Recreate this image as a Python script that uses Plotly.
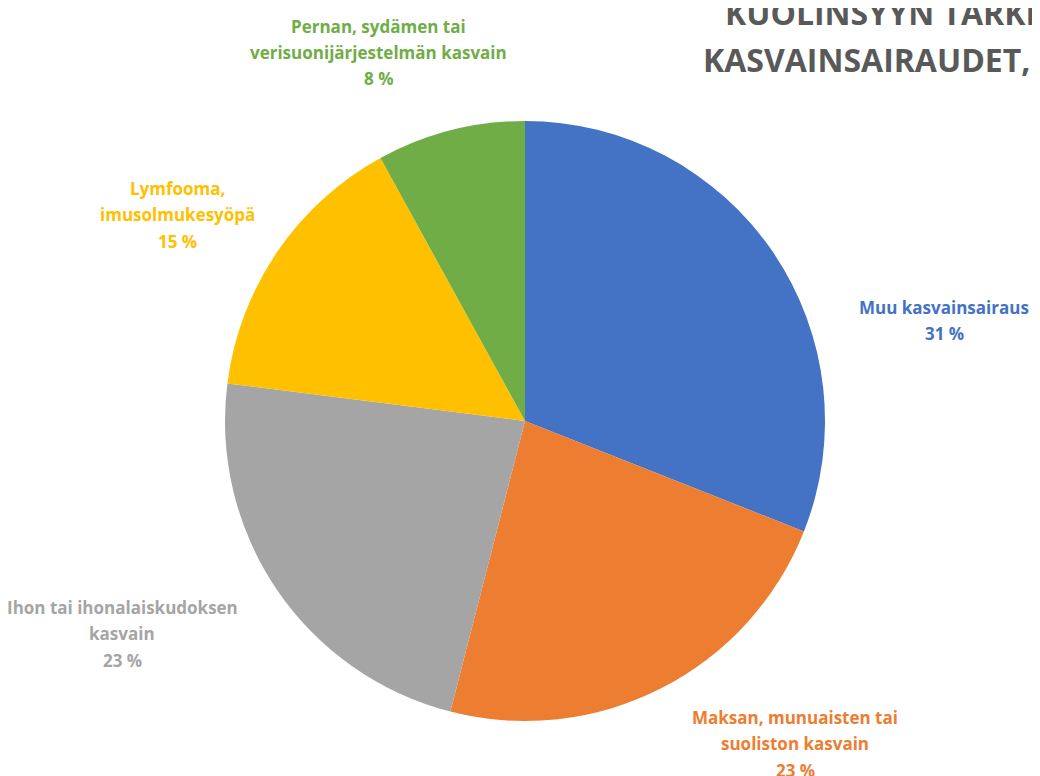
import plotly.graph_objects as go

categories = [
    "Muu kasvainsairaus",
    "Maksan, munuaisten tai suoliston kasvain",
    "Ihon tai ihonalaiskudoksen kasvain",
    "Lymfooma, imusolmukesyöpä",
    "Pernan, sydämen tai verisuonijärjestelmän kasvain",
]
values = [31, 23, 23, 15, 8]
label_lines = [
    ["Muu kasvainsairaus"],
    ["Maksan, munuaisten tai", "suoliston kasvain"],
    ["Ihon tai ihonalaiskudoksen", "kasvain"],
    ["Lymfooma,", "imusolmukesyöpä"],
    ["Pernan, sydämen tai", "verisuonijärjestelmän kasvain"],
]
colors = ["#4472C4", "#ED7D31", "#A5A5A5", "#FFC000", "#70AD47"]
title_lines = ["KUOLINSYYN TARKE", "KASVAINSAIRAUDET,"]

# page has an 8px body margin; work in reference pixel coords and shift
OFF = 8
W, H = 1040 - OFF, 776 - OFF
cx, cy, r = 525 - OFF, 421 - OFF, 300

def px_x(x):
    return (x - OFF) / W

def px_y(y):
    return 1 - (y - OFF) / H

# label block centres (reference pixels) and first-line y
label_pos = [(944, 307), (795, 717), (122, 607), (177, 188), (378, 26)]
line_gap = 26.5

fig = go.Figure(go.Pie(
    labels=categories,
    values=values,
    sort=False,
    direction="clockwise",
    rotation=0,
    marker=dict(colors=colors, line=dict(width=0)),
    textinfo="none",
    hoverinfo="label+percent",
    showlegend=False,
    domain=dict(x=[(cx - r) / W, (cx + r) / W], y=[1 - (cy + r) / H, 1 - (cy - r) / H]),
))

font_family = "'Open Sans', Lato, sans-serif"
annotations = []
for lines, v, col, (px, py) in zip(label_lines, values, colors, label_pos):
    all_lines = lines + [f"{v} %"]
    for i, t in enumerate(all_lines):
        annotations.append(dict(
            x=px_x(px), y=px_y(py + i * line_gap), xref="paper", yref="paper",
            text=f"<b>{t}</b>", showarrow=False, xanchor="center", yanchor="middle",
            font=dict(family=font_family, size=17, color=col),
        ))

title_x = [723, 701]
title_y = [13, 59]
for t, tx, ty in zip(title_lines, title_x, title_y):
    annotations.append(dict(
        x=px_x(tx), y=px_y(ty), xref="paper", yref="paper",
        text=f"<b>{t}</b>", showarrow=False, xanchor="left", yanchor="middle",
        font=dict(family=font_family, size=32, color="#595959"),
    ))

fig.update_layout(
    width=W, height=H,
    margin=dict(l=0, r=0, t=0, b=0),
    paper_bgcolor="white", plot_bgcolor="white",
    annotations=annotations,
)

fig.write_html("out.html")
